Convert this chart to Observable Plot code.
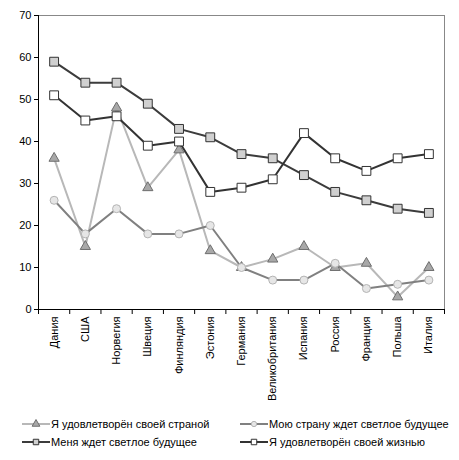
<!DOCTYPE html>
<html><head><meta charset="utf-8">
<script src="https://cdn.jsdelivr.net/npm/d3@7"></script>
<script src="https://cdn.jsdelivr.net/npm/@observablehq/plot@0.6"></script>
<style>
body{margin:0;background:#fff;font-family:"Liberation Sans",Arial,sans-serif;}
#legend{position:relative;width:459px;height:50px;font-size:11px;color:#000;}
.li{position:absolute;display:flex;align-items:center;white-space:nowrap;}
.li svg{margin-right:1px;}
</style></head>
<body><div id="chart"></div><div id="legend"></div>
<script>
const categories = ["Дания","США","Норвегия","Швеция","Финляндия","Эстония","Германия","Великобритания","Испания","Россия","Франция","Польша","Италия"];
const seriesNames = ["Я удовлетворён своей страной","Мою страну ждет светлое будущее","Меня ждет светлое будущее","Я удовлетворён своей жизнью"];
const satisfiedCountry = [36,15,48,29,38,14,10,12,15,10,11,3,10];
const countryFuture = [26,18,24,18,18,20,10,7,7,11,5,6,7];
const myFuture = [59,54,54,49,43,41,37,36,32,28,26,24,23];
const satisfiedLife = [51,45,46,39,40,28,29,31,42,36,33,36,37];
const yTicks = [0,10,20,30,40,50,60,70];

const styles = [
  {line:"#b8b8b8", sym:"triangle", fill:"#a8a8a8", stroke:"#6e6e6e", r:3.8, w:2},
  {line:"#808080", sym:"circle", fill:"#e6e6e6", stroke:"#b4b4b4", r:4, w:2},
  {line:"#3c3c3c", sym:"square", fill:"#d0d0d0", stroke:"#333", r:5, w:2},
  {line:"#333333", sym:"square", fill:"#ffffff", stroke:"#333", r:5, w:2}
];
const allSeries = [satisfiedCountry, countryFuture, myFuture, satisfiedLife];
const data = allSeries.map((vals, s) => vals.map((v, i) => ({i, v, s})));
const edges = d3.range(categories.length + 1).map(i => i - 0.5);
const idx = d3.range(categories.length);

const marks = [
  Plot.ruleY([70], {stroke:"#888"}),
  Plot.ruleX([categories.length - 0.5], {stroke:"#888"}),
  Plot.axisX(edges, {tickSize:5, tickFormat:()=>"", stroke:"#000", label:null}),
  Plot.axisX(idx, {tickSize:0, tickRotate:-90, tickPadding:7, tickFormat:i=>categories[i], fontSize:11, fill:"#000", label:null}),
  Plot.axisY(yTicks, {tickSize:4, tickPadding:3, fontSize:11, fill:"#000", label:null}),
  Plot.ruleY([0], {stroke:"#000"}),
  Plot.ruleX([-0.5], {stroke:"#000"})
];
data.forEach((d, s) => {
  const st = styles[s];
  marks.push(Plot.line(d, {x:"i", y:"v", stroke:st.line, strokeWidth:st.w}));
});
data.forEach((d, s) => {
  const st = styles[s];
  marks.push(Plot.dot(d, {x:"i", y:"v", symbol:()=>st.sym, r:st.r, fill:st.fill, stroke:st.stroke, strokeWidth:1}));
});

const chart = Plot.plot({
  width:459, height:410,
  marginLeft:38, marginRight:15, marginTop:15, marginBottom:101,
  style:{fontFamily:"'Liberation Sans', Arial, sans-serif", fontSize:"11px", color:"#000", background:"#fff"},
  x:{type:"linear", domain:[-0.5, categories.length - 0.5], axis:null, label:null},
  y:{domain:[0,70], axis:null, label:null},
  symbol:{type:"identity"},
  marks
});
document.getElementById("chart").appendChild(chart);

// legend
const pos = [[22,8],[240,8],[22,26],[240,26]];
const leg = document.getElementById("legend");
seriesNames.forEach((name, s) => {
  const st = styles[s];
  const div = document.createElement("div");
  div.className = "li";
  div.style.left = pos[s][0] + "px";
  div.style.top = pos[s][1] + "px";
  const sw = d3.create("svg").attr("width", 28).attr("height", 12);
  sw.append("line").attr("x1",0).attr("x2",28).attr("y1",6).attr("y2",6).attr("stroke",st.line).attr("stroke-width",2);
  const sz = st.sym === "square" ? 30 : st.sym === "triangle" ? 26 : 22;
  const symMap = {square:d3.symbolSquare, triangle:d3.symbolTriangle, circle:d3.symbolCircle};
  sw.append("path").attr("transform","translate(14,6)").attr("d", d3.symbol(symMap[st.sym], sz)()).attr("fill",st.fill).attr("stroke",st.stroke);
  div.appendChild(sw.node());
  const t = document.createElement("span");
  t.textContent = name;
  div.appendChild(t);
  leg.appendChild(div);
});
</script></body></html>
